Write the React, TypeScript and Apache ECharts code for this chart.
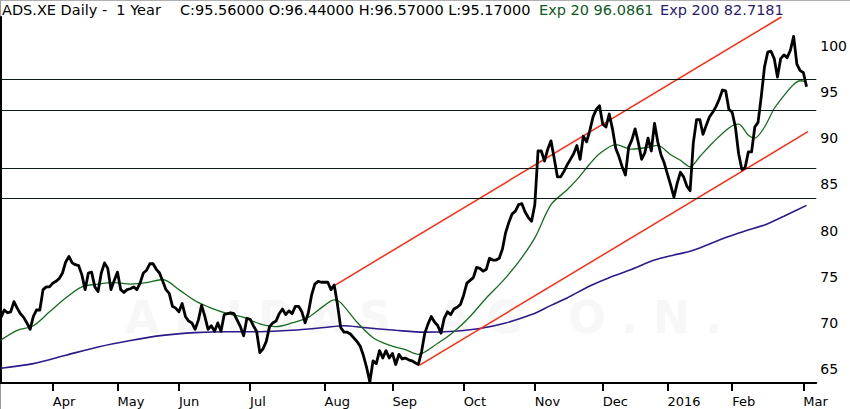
import React, { useEffect, useRef } from "react";
import * as echarts from "echarts";

// Daily closes (trading-day index 0..249)
const prices = [
  70.6, 71.4, 71.1, 71.2, 72.3, 71.6, 71.0, 70.6, 70.0, 69.3,
  70.7, 71.4, 71.4, 73.6, 73.9, 73.9, 74.3, 74.5, 74.8, 75.4,
  76.6, 77.2, 76.5, 76.3, 76.2, 75.2, 73.6, 75.4, 75.5, 73.9,
  73.4, 75.4, 76.5, 75.9, 73.6, 74.6, 75.5, 73.6, 73.3, 73.6,
  73.7, 73.9, 73.6, 74.3, 75.4, 75.7, 76.4, 76.4, 75.8, 75.4,
  74.5, 73.6, 73.2, 71.8, 71.6, 71.2, 72.1, 70.7, 70.2, 70.0,
  69.3, 70.3, 71.9, 70.7, 69.3, 69.7, 69.1, 70.0, 69.1, 70.9,
  71.0, 71.1, 71.0, 70.3, 69.6, 68.6, 70.5, 70.4, 69.7, 69.1,
  66.8, 67.2, 68.0, 69.6, 70.0, 70.2, 71.0, 71.5, 70.9, 71.3,
  71.0, 71.8, 71.8, 71.2, 70.0, 71.1, 73.0, 74.2, 74.5, 74.4,
  74.4, 74.4, 73.6, 74.1, 72.0, 69.5, 69.0, 69.0, 68.8, 68.4,
  68.0, 67.5, 66.5, 65.2, 63.6, 65.9, 65.6, 67.0, 66.2, 67.0,
  66.2, 66.7, 65.5, 66.6, 66.1, 66.2, 66.0, 65.9, 65.7, 65.5,
  66.9, 68.9, 69.9, 70.7, 70.1, 69.7, 68.9, 70.5, 71.2, 70.9,
  71.5, 71.7, 72.0, 73.0, 74.3, 74.6, 74.9, 76.0, 75.9, 75.6,
  75.8, 77.0, 76.8, 76.8, 77.0, 78.0, 79.8, 80.9, 81.8, 82.1,
  82.8, 82.9, 82.0, 81.4, 81.0, 82.8, 88.6, 88.6, 87.5, 88.8,
  89.7, 87.8, 85.8, 85.8, 86.4, 87.1, 87.7, 88.3, 89.2, 87.7,
  90.2, 89.6, 90.8, 92.3, 93.1, 93.5, 91.5, 91.2, 92.6, 91.0,
  88.9, 88.0, 86.9, 86.0, 89.0, 89.8, 91.0, 89.5, 87.7, 88.4,
  90.0, 88.6, 91.6, 89.6, 88.2, 87.3, 86.1, 84.9, 83.6, 85.1,
  86.3, 85.8, 84.8, 84.3, 89.5, 92.0, 92.0, 90.4, 91.4, 92.3,
  92.8, 93.4, 94.2, 95.2, 95.1, 93.1, 92.8, 91.2, 88.3, 86.6,
  86.8, 88.5, 88.5, 91.2, 91.7, 94.5, 97.7, 99.3, 99.4, 98.6,
  96.6, 98.6, 99.0, 98.7, 99.5, 101.0, 98.0, 97.3, 97.1, 95.56,
];

// Exponential moving average 20
const ema20Days = [0, 5, 10, 15, 20, 25, 30, 35, 40, 45, 50, 55, 60, 65, 70, 75, 80, 85, 90, 95, 100, 103, 105, 110, 115, 120, 125, 129, 135, 140, 145, 150, 155, 160, 165, 170, 175, 178, 182, 185, 190, 195, 200, 203, 207, 210, 213, 216, 220, 225, 228, 231, 233, 236, 239, 242, 245, 247, 249];
const ema20Values = [68.15, 69.2, 69.7, 71.2, 72.7, 73.9, 74.2, 74.35, 74.2, 74.35, 74.7, 73.6, 72.4, 71.6, 71.0, 70.6, 69.9, 69.6, 70.0, 70.6, 71.9, 72.5, 72.2, 70.1, 68.4, 67.6, 67.1, 66.6, 67.8, 69.05, 70.7, 72.7, 74.5, 76.6, 79.2, 82.8, 84.4, 85.5, 87.2, 88.3, 89.3, 88.8, 89.0, 89.2, 88.2, 87.6, 86.9, 88.0, 89.5, 91.1, 91.5, 90.3, 90.0, 91.2, 93.2, 94.6, 95.8, 96.2, 96.09];

// Exponential moving average 200
const ema200Days = [0, 10, 20, 30, 40, 50, 60, 70, 80, 90, 100, 106, 112, 122, 131, 140, 148, 156, 164, 170, 175, 182, 188, 195, 202, 208, 213, 218, 224, 230, 236, 242, 249];
const ema200Values = [65.1, 65.6, 66.5, 67.4, 68.1, 68.65, 68.95, 69.05, 69.05, 69.2, 69.5, 69.7, 69.5, 69.2, 69.0, 69.1, 69.4, 70.0, 70.9, 71.9, 72.7, 74.0, 74.9, 75.8, 76.8, 77.35, 77.75, 78.4, 79.25, 79.95, 80.6, 81.55, 82.72];

// Trend channel end points
const upperChannelDays = [103.3, 241.2];
const upperChannelPrices = [74.1, 103.1];
const lowerChannelDays = [129.4, 249.4];
const lowerChannelPrices = [65.44, 90.69];

// Horizontal support / resistance levels
const levels = [96.4, 93.0, 86.7, 83.5];

// Axis ticks
const monthDays = [16, 36, 55, 77, 100, 121, 143, 165, 186, 206, 226, 248];
const monthLabels = ["Apr", "May", "Jun", "Jul", "Aug", "Sep", "Oct", "Nov", "Dec", "2016", "Feb", "Mar"];
const yTicks = [65, 70, 75, 80, 85, 90, 95, 100];

const FONT = '"DejaVu Sans", Verdana, sans-serif';

export default function App() {
  const ref = useRef<HTMLDivElement>(null);

  useEffect(() => {
    if (!ref.current) return;
    const chart = echarts.init(ref.current, null, { renderer: "svg" });
    const pair = (days: number[], vals: number[]) => days.map((d, k) => [d, vals[k]]);

    chart.setOption({
      animation: false,
      backgroundColor: "#ffffff",
      grid: { left: 1, right: 30, top: 17, bottom: 26, containLabel: false },
      xAxis: {
        type: "value",
        min: 0,
        max: 252,
        axisLine: { show: true, lineStyle: { color: "#000", width: 2 } },
        axisTick: {
          show: true,
          customValues: monthDays,
          length: 8,
          inside: false,
          lineStyle: { color: "#000", width: 2 },
        },
        axisLabel: {
          show: true,
          customValues: monthDays,
          formatter: (v: number) => {
            const k = monthDays.indexOf(Math.round(v));
            return k >= 0 ? monthLabels[k] : "";
          },
          align: "left",
          margin: 12,
          color: "#000",
          fontSize: 13,
          fontFamily: FONT,
        },
        splitLine: { show: false },
      },
      yAxis: {
        type: "value",
        position: "right",
        min: 63.5,
        max: 103.1,
        axisLine: { show: true, lineStyle: { color: "#000", width: 2 } },
        axisTick: { show: false },
        axisLabel: {
          show: true,
          customValues: yTicks,
          margin: 4,
          color: "#000",
          fontSize: 14,
          fontFamily: FONT,
        },
        splitLine: { show: false },
      },
      graphic: [
        {
          type: "text",
          left: 125,
          top: 295,
          silent: true,
          z: -10,
          style: {
            text: "A D I D A S   A G   O . N .",
            fill: "#f7f7f7",
            font: `bold 44px ${FONT}`,
          },
        },
        {
          type: "line",
          shape: { x1: 0.5, y1: 0, x2: 0.5, y2: 409 },
          style: { stroke: "#9a9a9a", lineWidth: 1 },
        },
        {
          type: "line",
          shape: { x1: 0, y1: 0.5, x2: 850, y2: 0.5 },
          style: { stroke: "#b0b0b0", lineWidth: 1 },
        },
        {
          type: "text",
          left: 2,
          top: 2,
          style: { text: "ADS.XE Daily -  1 Year", fill: "#000", font: `14.5px ${FONT}` },
        },
        {
          type: "text",
          left: 180,
          top: 2,
          style: { text: "C:95.56000 O:96.44000 H:96.57000 L:95.17000", fill: "#000", font: `14.5px ${FONT}` },
        },
        {
          type: "text",
          left: 539,
          top: 2,
          style: { text: "Exp 20 96.0861", fill: "#0f5a1e", font: `14.5px ${FONT}` },
        },
        {
          type: "text",
          left: 660,
          top: 2,
          style: { text: "Exp 200 82.7181", fill: "#2a1a6e", font: `14.5px ${FONT}` },
        },
      ],
      series: [
        {
          name: "levels",
          type: "line",
          data: [],
          silent: true,
          markLine: {
            silent: true,
            symbol: ["none", "none"],
            label: { show: false },
            lineStyle: { color: "#0a1a1a", width: 1.2, type: "solid" },
            data: levels.map((v) => ({ yAxis: v })),
          },
          z: 1,
        },
        {
          name: "Exp 200",
          type: "line",
          data: pair(ema200Days, ema200Values),
          smooth: 0.3,
          showSymbol: false,
          lineStyle: { color: "#2e1a8a", width: 1.6 },
          z: 2,
        },
        {
          name: "Exp 20",
          type: "line",
          data: pair(ema20Days, ema20Values),
          smooth: 0.3,
          showSymbol: false,
          lineStyle: { color: "#136e1d", width: 1.3 },
          z: 3,
        },
        {
          name: "upper channel",
          type: "line",
          data: pair(upperChannelDays, upperChannelPrices),
          showSymbol: false,
          clip: true,
          lineStyle: { color: "#ff2a12", width: 1.5 },
          z: 4,
        },
        {
          name: "lower channel",
          type: "line",
          data: pair(lowerChannelDays, lowerChannelPrices),
          showSymbol: false,
          clip: true,
          lineStyle: { color: "#ff2a12", width: 1.5 },
          z: 4,
        },
        {
          name: "ADS.XE",
          type: "line",
          data: prices.map((v, i) => [i, v]),
          showSymbol: false,
          lineStyle: { color: "#000", width: 2.8, join: "round" },
          z: 5,
        },
      ],
    });

    return () => chart.dispose();
  }, []);

  return (
    <div
      ref={ref}
      style={{ position: "fixed", left: 0, top: 0, width: 850, height: 409, background: "#fff" }}
    />
  );
}
